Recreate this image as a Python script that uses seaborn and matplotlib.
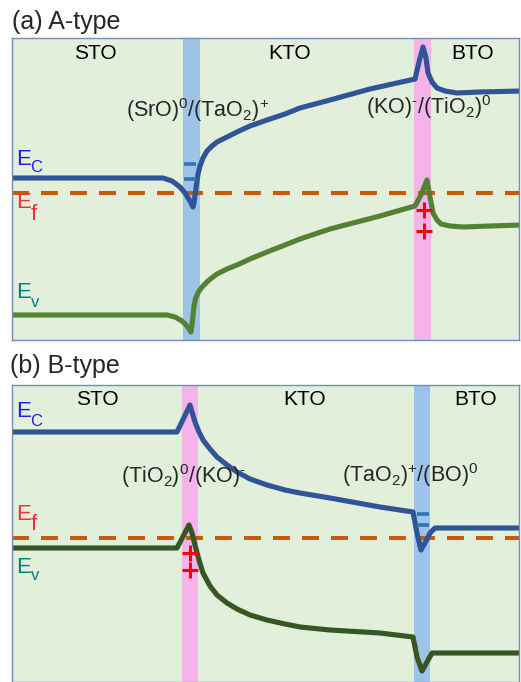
import matplotlib
matplotlib.use("Agg")
import matplotlib.pyplot as plt
import seaborn as sns
import numpy as np

sns.set_theme(style="white")
plt.rcParams['font.family'] = ['Liberation Sans', 'DejaVu Sans']
plt.rcParams['mathtext.fontset'] = 'custom'
plt.rcParams['mathtext.rm'] = 'Liberation Sans'
plt.rcParams['mathtext.it'] = 'Liberation Sans:italic'
plt.rcParams['mathtext.bf'] = 'Liberation Sans:bold'

# ---------------- data (schematic band energies, depth units: larger = lower energy) -------------
# Panel (a) A-type
pos_a_ec = [12, 150, 163, 172, 180, 185, 190, 193, 194, 196, 198, 200, 203, 207, 212, 217, 227,
            237, 250, 267, 285, 300, 330, 370, 415, 419, 423, 426, 428, 432, 437, 445, 457, 480, 521]
ec_a = [178, 178, 178, 181, 187, 193, 201, 207, 203, 188, 174, 166, 158, 151, 146, 142, 137,
        132, 126, 120, 114, 108, 100, 89, 79, 62, 47, 58, 73, 82, 88, 91, 93, 92, 91]
pos_a_ev = [12, 150, 167, 175, 182, 187, 191, 192, 194, 196, 199, 203, 208, 213, 217, 227, 237,
            250, 267, 285, 300, 330, 380, 415, 421, 427, 430, 433, 437, 441, 450, 463, 490, 521]
ev_a = [315, 315, 315, 317, 321, 326, 332, 325, 306, 297, 291, 286, 281, 277, 274, 269, 265,
        259, 252, 245, 239, 229, 216, 206, 195, 180, 197, 213, 220, 224, 226, 227, 226, 225]
ef_a = 193
interfaces_a = [191.5, 422]

# Panel (b) B-type
pos_b_ec = [12, 150, 177, 190, 192, 195, 199, 203, 210, 217, 227, 237, 250, 267, 285, 300, 330,
            380, 413, 417, 421, 426, 430, 435, 521]
ec_b = [432, 432, 432, 405, 412, 422, 432, 440, 449, 457, 465, 472, 479, 485, 490, 493, 498,
        507, 512, 533, 550, 541, 533, 528, 528]
pos_b_ev = [12, 150, 177, 189, 192, 195, 199, 203, 210, 217, 227, 237, 250, 267, 285, 300, 330,
            380, 413, 417, 422, 427, 432, 437, 521]
ev_b = [548, 548, 548, 525, 533, 545, 560, 573, 586, 595, 603, 609, 615, 620, 624, 627, 630,
        633, 637, 657, 671, 662, 653, 653, 653]
ef_b = 538
interfaces_b = [190, 422]

regions = ["STO", "KTO", "BTO"]
titles = ["(a) A-type", "(b) B-type"]
iface_labels_a = [r"(SrO)$^{0}$/(TaO$_{2}$)$^{+}$", "(KO)$^{\u2010}$/(TiO$_{2}$)$^{0}$"]
iface_labels_b = ["(TiO$_{2}$)$^{0}$/(KO)$^{\u2010}$", r"(TaO$_{2}$)$^{+}$/(BO)$^{0}$"]
level_names = [("E", "C"), ("E", "f"), ("E", "v")]

# ---------------- style ----------------
W, H = 521, 682
C_EC = "#2F5597"
C_EV_A = "#548235"
C_EV_B = "#375623"
C_EF = "#C55A11"
C_BLUE = "#9DC3E6"
C_PINK = "#F4B4EA"
C_BG = "#E2EFDA"
C_EDGE = "#6F8FB5"
C_LBL = ["#1F1FE6", "#F03030", "#00807A"]

fig = plt.figure(figsize=(W / 100, H / 100), dpi=100)
fig.patch.set_facecolor("white")


def make_ax(top, bottom):
    ax = fig.add_axes([12 / W, 1 - bottom / H, (519 - 12) / W, (bottom - top) / H])
    ax.set_xlim(12, 519)
    ax.set_ylim(bottom, top)
    ax.set_facecolor(C_BG)
    ax.set_xticks([])
    ax.set_yticks([])
    for s in ax.spines.values():
        s.set_color(C_EDGE)
        s.set_linewidth(1.0)
    return ax


def band(ax, x, y, color):
    sns.lineplot(x=x, y=y, ax=ax, color=color, linewidth=3.7, sort=False, estimator=None,
                 solid_joinstyle="round", solid_capstyle="butt")


def fermi(ax, y):
    sns.lineplot(x=[12, 519], y=[y, y], ax=ax, color=C_EF, linewidth=2.9, sort=False,
                 estimator=None, linestyle=(0, (4.2, 3.0)))


def level_labels(ax, e_base, sub_base):
    sub_sizes = [12, 16, 12]
    for (main, sub), c, eb, sb, ss in zip(level_names, C_LBL, e_base, sub_base, sub_sizes):
        ax.text(16, eb, main, color=c, fontsize=16, ha="left", va="baseline")
        ax.text(30.5, sb, sub, color=c, fontsize=ss, ha="left", va="baseline")


# ---------------- panel (a) ----------------
ax_a = make_ax(38, 340)
ax_a.axvspan(interfaces_a[0] - 8.5, interfaces_a[0] + 8.5, color=C_BLUE, lw=0)
ax_a.axvspan(interfaces_a[1] - 8.5, interfaces_a[1] + 8.5, color=C_PINK, lw=0)
fermi(ax_a, ef_a)
band(ax_a, pos_a_ec, ec_a, C_EC)
band(ax_a, pos_a_ev, ev_a, C_EV_A)
ax_a.plot([190, 190], [164, 179], ls="none", marker="_", ms=8, mew=2.6, color="#2E75B6")
ax_a.plot([424, 424], [210, 231], ls="none", marker="+", ms=11, mew=2.2, color="#FF0000")
for x, t in zip([95, 290, 473], regions):
    ax_a.text(x, 59, t, ha="center", va="baseline", fontsize=15, color="black")
ax_a.text(197.5, 117, iface_labels_a[0], ha="center", va="baseline", fontsize=15.5)
ax_a.text(429, 114, iface_labels_a[1], ha="center", va="baseline", fontsize=15.5)
level_labels(ax_a, [165, 208, 298], [172, 220, 307])

# ---------------- panel (b) ----------------
ax_b = make_ax(385, 682)
ax_b.axvspan(interfaces_b[0] - 8, interfaces_b[0] + 8, color=C_PINK, lw=0)
ax_b.axvspan(interfaces_b[1] - 8, interfaces_b[1] + 8, color=C_BLUE, lw=0)
fermi(ax_b, ef_b)
band(ax_b, pos_b_ec, ec_b, C_EC)
band(ax_b, pos_b_ev, ev_b, C_EV_B)
ax_b.plot([423, 423], [514, 525], ls="none", marker="_", ms=8, mew=2.6, color="#2E75B6")
ax_b.plot([190, 190], [553, 570], ls="none", marker="+", ms=11, mew=2.2, color="#FF0000")
for x, t in zip([97, 305, 476], regions):
    ax_b.text(x, 405, t, ha="center", va="baseline", fontsize=15, color="black")
ax_b.text(184, 483, iface_labels_b[0], ha="center", va="baseline", fontsize=15.5)
ax_b.text(410.5, 482, iface_labels_b[1], ha="center", va="baseline", fontsize=15.5)
level_labels(ax_b, [417, 520, 573], [426, 530, 580])

fig.text(12 / W, 1 - 29 / H, titles[0], fontsize=18, ha="left", va="baseline")
fig.text(10 / W, 1 - 373 / H, titles[1], fontsize=18, ha="left", va="baseline")

fig.savefig("out.png", dpi=100, facecolor="white")
